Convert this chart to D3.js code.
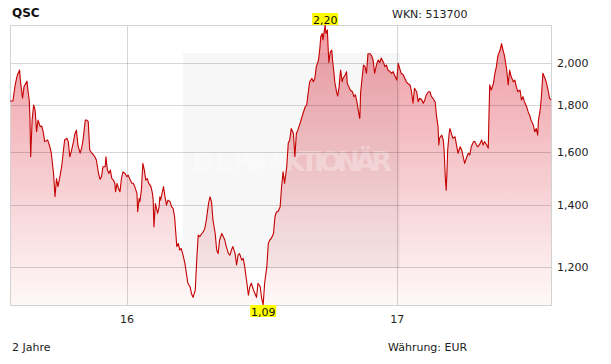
<!DOCTYPE html>
<html>
<head>
<meta charset="utf-8">
<script src="https://cdn.jsdelivr.net/npm/d3@7"></script>
<style>
  body { margin: 0; background: #fff; }
  text { font-family: "DejaVu Sans", Verdana, sans-serif; }
</style>
</head>
<body>
<script>
// Kursverlauf QSC, 2 Jahre (Tage ab Startdatum, Kurs in EUR)
const startDate = new Date(2015, 6, 27);
const days = [
  0,4,7,10,13,14,17,19,23,24,26,27,28,30,32,34,36,38,41,43,45,47,51,54,56,59,61,63,65,68,
  70,72,74,77,79,81,83,86,88,90,92,95,97,99,102,104,106,108,111,113,115,117,120,122,124,126,129,130,132,134,
  136,138,140,142,143,145,147,149,151,153,156,158,160,162,165,167,169,172,173,175,176,178,180,182,184,186,188,191,193,194,
  195,197,200,202,203,204,206,208,209,210,212,214,217,219,221,223,226,228,230,232,235,237,239,
  241,244,246,248,251,253,255,257,260,262,264,266,269,271,273,275,278,280,282,284,287,289,291,293,296,298,
  300,302,305,307,309,311,314,316,318,321,323,325,327,330,332,334,336,339,341,343,345,348,350,352,354,357,359,361,363,366,
  368,370,372,375,377,379,381,384,386,388,390,393,395,397,400,402,404,406,409,411,413,415,418,420,421,423,424,426,427,428,
  430,431,432,434,436,437,439,440,442,444,446,447,448,450,451,454,456,457,459,461,464,466,468,470,473,474,475,477,479,481,
  483,485,488,
  490,492,494,497,499,501,503,506,508,510,512,515,517,519,521,524,526,528,530,533,535,537,539,542,544,546,548,551,553,555,
  558,560,562,564,567,569,571,573,576,578,580,581,582,585,587,588,590,591,592,593,595,596,598,600,603,605,607,610,612,614,
  616,619,621,623,625,628,630,632,634,637,639,641,643,646,648,649,650,652,655,657,659,661,664,666,668,670,673,675,677,679,
  682,684,686,688,691,693,695,697,700,702,704,706,709,711,713,715,716,718,719,720,722,725,727,729,731,733
];
const prices = [
  1.818,1.818,1.893,1.941,1.965,1.916,1.831,1.885,1.911,1.877,1.823,1.748,1.581,1.733,1.800,1.777,1.683,1.733,1.705,1.708,1.683,1.642,1.649,1.621,1.595,1.516,1.430,1.497,1.467,1.510,
  1.542,1.595,1.649,1.656,1.642,1.581,1.601,1.642,1.676,1.690,1.628,1.595,1.615,1.649,1.733,1.733,1.726,1.608,1.595,1.588,1.581,1.568,1.516,1.494,1.504,1.542,1.542,1.581,1.529,1.516,
  1.529,1.497,1.491,1.479,1.448,1.479,1.460,1.448,1.497,1.522,1.516,1.504,1.510,1.497,1.479,1.479,1.467,1.442,1.377,1.424,1.412,1.454,1.555,1.529,1.491,1.497,1.479,1.467,1.442,1.418,
  1.326,1.406,1.372,1.394,1.430,1.418,1.442,1.467,1.448,1.430,1.400,1.418,1.412,1.394,1.389,1.360,1.262,1.272,1.251,1.256,1.230,1.210,1.180,
  1.151,1.141,1.121,1.111,1.131,1.220,1.299,1.294,1.304,1.310,1.321,1.349,1.406,1.430,1.412,1.349,1.304,1.251,1.240,1.283,1.304,1.294,1.283,1.262,1.240,1.235,
  1.251,1.262,1.240,1.205,1.235,1.240,1.220,1.225,1.200,1.151,1.117,1.141,1.151,1.131,1.121,1.111,1.151,1.141,1.108,1.090,1.151,1.200,1.272,1.283,1.288,1.304,1.360,1.377,1.377,1.394,
  1.467,1.522,1.479,1.542,1.635,1.649,1.697,1.676,1.581,1.676,1.690,1.719,1.740,1.762,1.792,1.800,1.854,1.908,1.924,1.908,1.924,1.982,2.015,2.081,2.136,2.154,2.119,2.173,2.200,2.154,
  2.173,2.081,2.003,2.057,2.066,2.015,1.949,1.908,1.869,1.841,1.885,1.933,1.965,1.908,1.924,1.941,1.957,1.900,1.885,1.869,1.861,1.838,1.846,1.815,1.755,1.740,1.854,1.924,1.990,1.982,
  1.949,2.047,2.047,
  2.036,2.015,1.949,1.998,2.015,2.003,2.025,2.003,1.982,1.990,1.965,1.957,1.949,1.957,1.941,1.916,1.998,1.973,1.949,1.941,1.924,1.908,1.900,1.893,1.861,1.808,1.877,1.861,1.815,1.831,
  1.823,1.808,1.823,1.846,1.861,1.861,1.838,1.831,1.815,1.748,1.705,1.628,1.656,1.669,1.649,1.615,1.491,1.454,1.516,1.608,1.676,1.697,1.676,1.656,1.662,1.628,1.595,1.621,1.608,1.581,
  1.555,1.581,1.595,1.588,1.621,1.642,1.642,1.628,1.621,1.635,1.649,1.628,1.642,1.628,1.615,1.762,1.893,1.869,1.900,1.949,1.982,2.036,2.066,2.100,2.066,2.036,1.965,1.893,1.965,1.933,
  1.908,1.916,1.885,1.861,1.869,1.823,1.838,1.815,1.792,1.770,1.755,1.733,1.712,1.683,1.697,1.669,1.733,1.770,1.800,1.838,1.949,1.924,1.900,1.869,1.831,1.823
];
const yTicks = [1.2, 1.4, 1.6, 1.8, 2.0];
const xTicks = [new Date(2016, 0, 1), new Date(2017, 0, 1)];
const xTickLabels = ["16", "17"];

const width = 611;
const height = 364;
const margin = { top: 25, right: 60, bottom: 59, left: 10 };
const x0 = margin.left, x1 = width - margin.right;
const y0 = margin.top, y1 = height - margin.bottom;

const data = days.map((d, i) => ({ date: d3.timeDay.offset(startDate, d), value: prices[i] }));

const de = d3.formatLocale({ decimal: ",", thousands: ".", grouping: [3], currency: ["", " €"] });
const fmtTick = de.format(".3f");
const fmtMark = de.format(".2f");

const svg = d3.select("body").append("svg")
  .attr("width", width)
  .attr("height", height);

const x = d3.scaleTime()
  .domain(d3.extent(data, d => d.date))
  .range([x0, x1]);

const y = d3.scaleLog()
  .domain(d3.extent(data, d => d.value))
  .range([y1, y0]);

// Verlauf für die Fläche
const grad = svg.append("defs").append("linearGradient")
  .attr("id", "fill")
  .attr("gradientUnits", "userSpaceOnUse")
  .attr("x1", 0).attr("y1", y0)
  .attr("x2", 0).attr("y2", y1);
grad.append("stop").attr("offset", "0%").attr("stop-color", "#ef9aa2");
grad.append("stop").attr("offset", "55%").attr("stop-color", "#f6cdd1");
grad.append("stop").attr("offset", "100%").attr("stop-color", "#fff8f8");

// Fläche
svg.append("path")
  .datum(data)
  .attr("fill", "url(#fill)")
  .attr("d", d3.area()
    .x(d => x(d.date))
    .y0(y1)
    .y1(d => y(d.value)));

// Wasserzeichen
svg.append("rect")
  .attr("x", 183).attr("y", 53)
  .attr("width", 217).attr("height", 215)
  .attr("fill", "#000")
  .attr("opacity", 0.03);

const wm = svg.append("g").attr("opacity", 0.3);
wm.append("text")
  .attr("x", 192).attr("y", 171)
  .attr("fill", "#fff")
  .style("font-size", "27px")
  .style("font-weight", "bold")
  .text("DER");
wm.append("circle")
  .attr("cx", 256).attr("cy", 161).attr("r", 10)
  .attr("fill", "#fff");
wm.append("text")
  .attr("x", 268).attr("y", 171)
  .attr("fill", "#fff")
  .attr("textLength", 124)
  .style("font-size", "27px")
  .style("font-weight", "bold")
  .text("AKTIONÄR");

// Gitterlinien
const grid = svg.append("g")
  .attr("stroke", "#000")
  .attr("stroke-opacity", 0.16)
  .attr("shape-rendering", "crispEdges");
grid.selectAll("line.h")
  .data(yTicks)
  .join("line")
  .attr("class", "h")
  .attr("x1", x0).attr("x2", x1)
  .attr("y1", d => Math.round(y(d)) + 0.5)
  .attr("y2", d => Math.round(y(d)) + 0.5);
grid.selectAll("line.v")
  .data(xTicks)
  .join("line")
  .attr("class", "v")
  .attr("y1", y0).attr("y2", y1)
  .attr("x1", d => Math.round(x(d)) + 0.5)
  .attr("x2", d => Math.round(x(d)) + 0.5);

// Rahmen
svg.append("rect")
  .attr("x", x0 + 0.5).attr("y", y0 + 0.5)
  .attr("width", x1 - x0).attr("height", y1 - y0)
  .attr("fill", "none")
  .attr("stroke", "#d2d2d2");

// Kurslinie
svg.append("path")
  .datum(data)
  .attr("fill", "none")
  .attr("stroke", "#c40000")
  .attr("stroke-width", 1.1)
  .attr("stroke-linejoin", "round")
  .attr("d", d3.line()
    .x(d => x(d.date))
    .y(d => y(d.value)));

// Achsen
const yAxis = svg.append("g")
  .attr("transform", `translate(${x1 + 6},0)`)
  .call(d3.axisRight(y).tickValues(yTicks).tickFormat(fmtTick).tickSize(0).tickPadding(0));
yAxis.select(".domain").remove();
yAxis.selectAll("text")
  .attr("fill", "#222")
  .style("font-size", "11px");

const xAxis = svg.append("g")
  .attr("transform", `translate(0,${y1 + 10})`)
  .call(d3.axisBottom(x).tickValues(xTicks).tickFormat((d, i) => xTickLabels[i]).tickSize(0).tickPadding(0));
xAxis.select(".domain").remove();
xAxis.selectAll("text")
  .attr("fill", "#222")
  .attr("dy", "0.71em")
  .style("font-size", "11px");

// Hoch und Tief markieren
const hi = data.reduce((a, b) => (b.value > a.value ? b : a));
const lo = data.reduce((a, b) => (b.value < a.value ? b : a));

function marker(d, top) {
  const g = svg.append("g").attr("transform", `translate(${x(d.date)},${top})`);
  g.append("rect")
    .attr("x", -13).attr("y", 0)
    .attr("width", 26).attr("height", 12)
    .attr("fill", "#ffff00");
  g.append("text")
    .attr("x", 0).attr("y", 10.5)
    .attr("text-anchor", "middle")
    .attr("fill", "#111")
    .style("font-size", "11px")
    .text(fmtMark(d.value));
}
marker(hi, y0 - 12);
marker(lo, y1);

// Beschriftungen
svg.append("text")
  .attr("x", 12).attr("y", 17)
  .attr("fill", "#111")
  .style("font-size", "12px")
  .style("font-weight", "bold")
  .text("QSC");

svg.append("text")
  .attr("x", 392).attr("y", 18)
  .attr("fill", "#222")
  .style("font-size", "11px")
  .text("WKN: 513700");

svg.append("text")
  .attr("x", 12).attr("y", 351)
  .attr("fill", "#222")
  .style("font-size", "11px")
  .text("2 Jahre");

svg.append("text")
  .attr("x", 388).attr("y", 351)
  .attr("fill", "#222")
  .style("font-size", "11px")
  .text("Währung: EUR");
</script>
</body>
</html>
